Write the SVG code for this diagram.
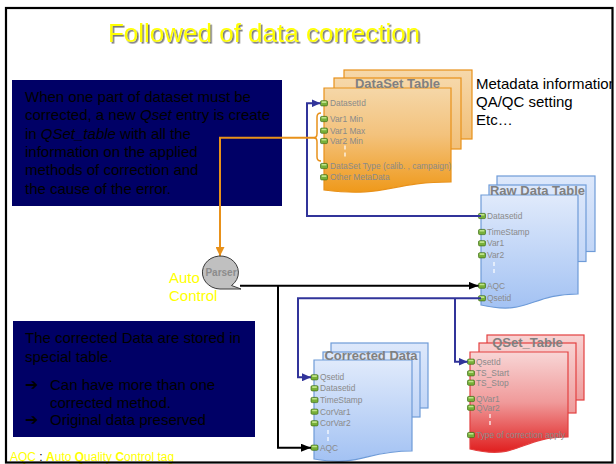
<svg xmlns="http://www.w3.org/2000/svg" xmlns:xlink="http://www.w3.org/1999/xlink" width="616" height="464" viewBox="0 0 616 464">
  <defs>
    <style>
      .note { font-family: "Liberation Sans", Arial, sans-serif; font-size: 15px; fill: #000000; }
      .navy { fill: #000066; }
      .ttl { font-family: "Liberation Sans", Arial, sans-serif; font-weight: bold; font-size: 13px; fill: #808080; text-anchor: middle; }
      .fld { font-family: "Liberation Sans", Arial, sans-serif; font-size: 8.4px; fill: #8a8a8a; }
      .dash { stroke: #ffffff; stroke-width: 1.2; stroke-dasharray: 4 3; fill: none; }
      .o-st { stroke: #e8911a; stroke-width: 1.2; }
      .b-st { stroke: #6e9bd8; stroke-width: 1.2; }
      .r-st { stroke: #e34040; stroke-width: 1.2; }
      .wire-blue { fill: none; stroke: #31349a; stroke-width: 2; }
      .wire-black { fill: none; stroke: #000000; stroke-width: 2; }
      .wire-orange { fill: none; stroke: #e8911a; stroke-width: 2; }
      .yl { font-family: "Liberation Sans", Arial, sans-serif; fill: #ffff00; }
      .bullet { font-family: "DejaVu Sans", sans-serif; font-size: 16px; font-weight: bold; }
    </style>
    <linearGradient id="gOrangeFront" x1="0" y1="0" x2="0" y2="1">
      <stop offset="0" stop-color="#f5d7a8"/>
      <stop offset="0.45" stop-color="#f3c27c"/>
      <stop offset="1" stop-color="#ef991a"/>
    </linearGradient>
    <linearGradient id="gOrangeBack" x1="0" y1="0" x2="0" y2="1">
      <stop offset="0" stop-color="#f6d8aa"/>
      <stop offset="1" stop-color="#f2c079"/>
    </linearGradient>
    <linearGradient id="gBlueFront" x1="0" y1="0" x2="0" y2="1">
      <stop offset="0" stop-color="#e0eafb"/>
      <stop offset="1" stop-color="#a3c2f3"/>
    </linearGradient>
    <linearGradient id="gBlueBack" x1="0" y1="0" x2="0" y2="1">
      <stop offset="0" stop-color="#dde8fb"/>
      <stop offset="1" stop-color="#c2d6f7"/>
    </linearGradient>
    <linearGradient id="gRedFront" x1="0" y1="0" x2="0" y2="1">
      <stop offset="0" stop-color="#f8d6d6"/>
      <stop offset="0.5" stop-color="#f09a9a"/>
      <stop offset="1" stop-color="#e01e1e"/>
    </linearGradient>
    <linearGradient id="gRedBack" x1="0" y1="0" x2="0" y2="1">
      <stop offset="0" stop-color="#f8d2d2"/>
      <stop offset="1" stop-color="#ee9c9c"/>
    </linearGradient>
    <filter id="shadow" x="-5%" y="-20%" width="110%" height="150%">
      <feDropShadow dx="1.6" dy="1.6" stdDeviation="0.3" flood-color="#7a7a7a" flood-opacity="1"/>
    </filter>
    <clipPath id="frameClip">
      <rect x="6" y="8" width="606" height="454"/>
    </clipPath>
    <!-- small green field connector glyph -->
    <g id="pin">
      <rect x="-3.5" y="-2.6" width="7" height="5.2" rx="1.2" fill="#78b03a" stroke="#3f6f17" stroke-width="0.7"/>
      <rect x="-2.4" y="-2" width="4.8" height="1.6" rx="0.6" fill="#bfe38a"/>
    </g>
    <marker id="arrBlue" viewBox="0 0 10 10" refX="10" refY="5" markerWidth="9" markerHeight="8" markerUnits="userSpaceOnUse" orient="auto" preserveAspectRatio="none">
      <path d="M0,0 L10,5 L0,10 Z" fill="#31349a"/>
    </marker>
    <marker id="arrBlack" viewBox="0 0 10 10" refX="10" refY="5" markerWidth="10" markerHeight="8" markerUnits="userSpaceOnUse" orient="auto" preserveAspectRatio="none">
      <path d="M0,0 L10,5 L0,10 Z" fill="#000000"/>
    </marker>
    <marker id="arrOrange" viewBox="0 0 10 10" refX="10" refY="5" markerWidth="9" markerHeight="9" markerUnits="userSpaceOnUse" orient="auto" preserveAspectRatio="none">
      <path d="M0,0 L10,5 L0,10 Z" fill="#e8911a"/>
    </marker>
  </defs>

  <rect x="0" y="0" width="616" height="464" fill="#ffffff"/>

  <!-- slide title -->
  <g id="title">
    <text x="264" y="42" text-anchor="middle" font-family="'Liberation Sans', Arial, sans-serif" font-size="26" fill="#ffff00" filter="url(#shadow)">Followed of data correction</text>
  </g>

  <!-- explanatory notes -->
  <g id="note-correction">
    <rect class="navy" x="12" y="80" width="270" height="126"/>
    <text class="note" x="25" y="102">When one part of dataset must be</text>
    <text class="note" x="25" y="120.3">corrected, a new <tspan font-style="italic">Qset</tspan> entry is create</text>
    <text class="note" x="25" y="138.6">in <tspan font-style="italic">QSet_table</tspan>  with all the</text>
    <text class="note" x="25" y="156.9">information on the applied</text>
    <text class="note" x="25" y="175.2">methods of correction and</text>
    <text class="note" x="25" y="193.5">the cause of the error.</text>
  </g>

  <g id="note-storage">
    <rect class="navy" x="13" y="321" width="242" height="116"/>
    <text class="note" x="25" y="343">The corrected Data are stored in</text>
    <text class="note" x="25" y="361.5">special table.</text>
    <text class="note" x="25" y="390"><tspan class="bullet">➔</tspan><tspan x="50">Can have more than one</tspan></text>
    <text class="note" x="50" y="408">corrected method.</text>
    <text class="note" x="25" y="425"><tspan class="bullet">➔</tspan><tspan x="50">Original data preserved</tspan></text>
  </g>

  <g id="metadata-note" clip-path="url(#frameClip)">
    <text class="note" x="476" y="88.5">Metadata information</text>
    <text class="note" x="476" y="106.5">QA/QC setting</text>
    <text class="note" x="476" y="124.5">Etc…</text>
  </g>

  <!-- DataSet table (metadata) -->
  <g id="dataset-table">
    <rect class="o-st" x="344" y="70" width="128" height="69" fill="url(#gOrangeBack)"/>
    <rect class="o-st" x="334" y="78" width="127" height="71" fill="url(#gOrangeBack)"/>
    <path class="o-st" d="M324,88 H451 V182 C387.5,182 387.5,198 324,190 Z" fill="url(#gOrangeFront)"/>
    <text class="ttl" x="397.5" y="88">DataSet Table</text>
    <use href="#pin" x="324" y="103.3"/><text class="fld" x="330" y="106.3">DatasetId</text>
    <use href="#pin" x="324" y="119"/><text class="fld" x="330" y="122">Var1 Min</text>
    <use href="#pin" x="324" y="130.7"/><text class="fld" x="330" y="133.7">Var1 Max</text>
    <use href="#pin" x="324" y="141"/><text class="fld" x="330" y="144">Var2 Min</text>
    <line class="dash" x1="345" y1="145.5" x2="345" y2="158"/>
    <use href="#pin" x="324" y="166"/><text class="fld" x="330" y="169">DataSet Type (calib. , campaign)</text>
    <use href="#pin" x="324" y="177.3"/><text class="fld" x="330" y="180.3">Other MetaData</text>
  </g>

  <!-- Raw data table -->
  <g id="rawdata-table">
    <rect class="b-st" x="497" y="176" width="98" height="75.5" fill="url(#gBlueBack)"/>
    <rect class="b-st" x="489" y="185" width="97" height="76.5" fill="url(#gBlueBack)"/>
    <path class="b-st" d="M481,195 H578 V294 C529.5,294 529.5,316 481,305 Z" fill="url(#gBlueFront)"/>
    <text class="ttl" x="537.5" y="195">Raw Data Table</text>
    <use href="#pin" x="482" y="216"/><text class="fld" x="487" y="219">Datasetid</text>
    <use href="#pin" x="482" y="232"/><text class="fld" x="487" y="235">TimeStamp</text>
    <use href="#pin" x="482" y="243.3"/><text class="fld" x="487" y="246.3">Var1</text>
    <use href="#pin" x="482" y="255.3"/><text class="fld" x="487" y="258.3">Var2</text>
    <line class="dash" x1="494" y1="262" x2="494" y2="275"/>
    <use href="#pin" x="482" y="285.7"/><text class="fld" x="487" y="288.7">AQC</text>
    <use href="#pin" x="482" y="298.3"/><text class="fld" x="487" y="301.3">Qsetid</text>
  </g>

  <!-- Corrected data table -->
  <g id="corrected-table">
    <rect class="b-st" x="331" y="343" width="97" height="65" fill="url(#gBlueBack)"/>
    <rect class="b-st" x="323" y="352" width="97" height="65" fill="url(#gBlueBack)"/>
    <path class="b-st" d="M314,360 H412 V451 C363,451 363,467 314,459 Z" fill="url(#gBlueFront)"/>
    <text class="ttl" x="371" y="359.5">Corrected Data</text>
    <use href="#pin" x="314.5" y="377.3"/><text class="fld" x="320" y="380.3">Qsetid</text>
    <use href="#pin" x="314.5" y="388.3"/><text class="fld" x="320" y="391.3">Datasetid</text>
    <use href="#pin" x="314.5" y="400"/><text class="fld" x="320" y="403">TimeStamp</text>
    <use href="#pin" x="314.5" y="411.7"/><text class="fld" x="320" y="414.7">CorVar1</text>
    <use href="#pin" x="314.5" y="423.3"/><text class="fld" x="320" y="426.3">CorVar2</text>
    <line class="dash" x1="328" y1="430" x2="328" y2="443"/>
    <use href="#pin" x="314.5" y="447.7"/><text class="fld" x="320" y="450.7">AQC</text>
  </g>

  <!-- QSet table (correction records) -->
  <g id="qset-table">
    <rect class="r-st" x="487" y="335" width="97" height="65" fill="url(#gRedBack)"/>
    <rect class="r-st" x="479" y="343" width="97" height="70" fill="url(#gRedBack)"/>
    <path class="r-st" d="M470,352 H568 V437 C519,437 519,461 470,449 Z" fill="url(#gRedFront)"/>
    <text class="ttl" x="527.5" y="346.5">QSet_Table</text>
    <use href="#pin" x="471" y="361.7"/><text class="fld" x="476" y="364.7">QsetId</text>
    <use href="#pin" x="471" y="373.3"/><text class="fld" x="476" y="376.3">TS_Start</text>
    <use href="#pin" x="471" y="382.7"/><text class="fld" x="476" y="385.7">TS_Stop</text>
    <use href="#pin" x="471" y="399"/><text class="fld" x="476" y="402">QVar1</text>
    <use href="#pin" x="471" y="407.7"/><text class="fld" x="476" y="410.7">QVar2</text>
    <line class="dash" x1="490" y1="414" x2="490" y2="427"/>
    <use href="#pin" x="471" y="435"/><text class="fld" x="476" y="438">Type of correction apply</text>
  </g>

  <!-- connectors -->
  <g id="connectors">
    <path class="wire-blue" d="M481,216 H307 V103.3 H320.5" marker-end="url(#arrBlue)"/>
    <path class="wire-blue" d="M481,298.3 H298 V377.3 H311" marker-end="url(#arrBlue)"/>
    <path class="wire-blue" d="M455,298.3 V361.7 H467.5" marker-end="url(#arrBlue)"/>
    <path class="wire-black" d="M240,285.7 H478.5" marker-end="url(#arrBlack)"/>
    <path class="wire-black" d="M278,285.7 V447.7 H311" marker-end="url(#arrBlack)"/>
    <path class="wire-orange" d="M315,137.7 H220 V256" marker-end="url(#arrOrange)"/>
    <path fill="none" stroke="#e8911a" stroke-width="1.5" d="M321,113 Q317,113 317,117 V133.5 Q317,137.7 314,137.7 Q317,137.7 317,142 V157 Q317,161 321,161"/>
  </g>

  <!-- parser (sequential access storage) -->
  <g id="parser">
    <path d="M231.5,285.5 A18 16.5 0 1 0 220,289 L241,289 Z" fill="#c0c0c0" stroke="#3a3a3a" stroke-width="1"/>
    <text x="221" y="275.5" text-anchor="middle" font-family="'Liberation Sans', Arial, sans-serif" font-weight="bold" font-size="10" fill="#8c8c8c">Parser</text>
  </g>

  <g id="auto-control-label">
    <text class="yl" x="169" y="283" font-size="15">Auto</text>
    <text class="yl" x="169" y="301" font-size="15">Control</text>
  </g>

  <g id="legend">
    <text x="10" y="460.5" font-family="'Liberation Sans', Arial, sans-serif" font-size="12"><tspan fill="#ffff00">AQC</tspan><tspan fill="#000000"> : </tspan><tspan fill="#ffff00" font-weight="bold">A</tspan><tspan fill="#ffff00">uto </tspan><tspan fill="#ffff00" font-weight="bold">Q</tspan><tspan fill="#ffff00">uality </tspan><tspan fill="#ffff00" font-weight="bold">C</tspan><tspan fill="#ffff00">ontrol tag</tspan></text>
  </g>

  <!-- slide frame -->
  <rect x="6" y="8" width="606.5" height="454.5" fill="none" stroke="#000000" stroke-width="2.2"/>
</svg>
